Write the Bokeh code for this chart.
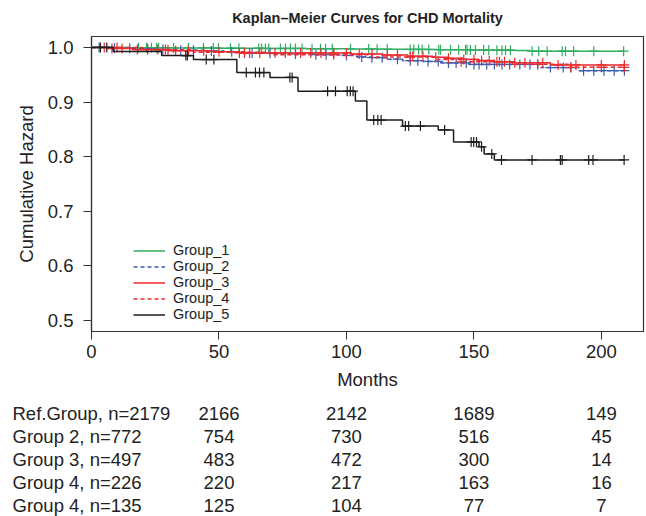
import numpy as np
from bokeh.plotting import figure
from bokeh.models import Range1d, Legend, LegendItem, FixedTicker
from bokeh.embed import file_html
from bokeh.resources import INLINE
from bokeh.core.properties import value

# ---- Kaplan-Meier step curves: event times (months) and survival after each step ----
g1_t = [0, 15, 32, 48, 66, 84, 100, 112, 124, 136, 148, 158, 166, 172, 209]
g1_s = [1.0, 0.9995, 0.9991, 0.9986, 0.9982, 0.9977, 0.9972, 0.9968, 0.9963,
        0.9958, 0.9954, 0.9949, 0.9944, 0.9932, 0.9932]

g2_t = [0, 8, 16, 25, 34, 44, 52, 60, 72, 88, 98, 104, 110, 116, 122, 130, 137,
        148, 176, 191, 209]
g2_s = [1.0, 0.9987, 0.9974, 0.996, 0.9947, 0.9933, 0.992, 0.9894, 0.9881,
        0.9867, 0.9853, 0.9826, 0.9812, 0.9785, 0.9758, 0.9744, 0.9716, 0.9688,
        0.9631, 0.9575, 0.9575]

g3_t = [0, 6, 16, 30, 48, 58, 102, 114, 124, 134, 140, 146, 152, 158, 166, 180, 209]
g3_s = [1.0, 0.998, 0.996, 0.994, 0.992, 0.990, 0.988, 0.986, 0.984, 0.982,
        0.980, 0.978, 0.976, 0.974, 0.972, 0.968, 0.968]

g4_t = [0, 20, 40, 70, 110, 135, 145, 165, 188, 209]
g4_s = [1.0, 0.9956, 0.9912, 0.9868, 0.9824, 0.978, 0.9736, 0.9692, 0.9636, 0.9636]

g5_t = [0, 8.5, 27.5, 40, 57, 70, 81, 103.5, 108, 122, 136, 142, 152, 154, 158, 209]
g5_s = [1.0, 0.9926, 0.9851, 0.9777, 0.954, 0.945, 0.920, 0.902, 0.867, 0.856,
        0.849, 0.827, 0.818, 0.805, 0.794, 0.794]

# ---- censoring times (months) ----
g1_c = [18.4, 21.6, 23.5, 25.5, 26.3, 32.2, 38, 43.9, 47.8, 49.8, 54.5, 57.8,
        65.6, 66.7, 68.2, 69.5, 74.1, 76.1, 78, 80, 82.6, 86.5, 89.8, 91.8, 94.4,
        101.6, 108.7, 112, 116, 125, 126.4, 128.3, 129.7, 132.3, 136.2, 136.9,
        140.8, 144, 146.7, 147.3, 148.6, 150.6, 153.8, 155.8, 159, 161, 162.4,
        164.3, 172.8, 175.4, 178.7, 184.6, 185.9, 189.1, 197, 208.7]
g2_c = [3, 9, 15, 22, 28, 35, 40, 47, 55, 60, 63, 70, 80, 88, 92, 100, 106, 110,
        114, 120, 125, 128, 132, 136, 140, 143, 147, 150, 152, 155, 158, 161, 164,
        168, 172, 175, 180, 185, 188, 193, 197, 201, 205, 209]
g3_c = [5, 8, 12, 18, 22, 26, 29, 33, 38, 44, 50, 58, 62, 66, 72, 76, 82, 86, 90,
        95, 100, 105, 110, 116, 120, 126, 130, 135, 140, 146, 150, 153, 156, 159,
        162, 166, 170, 177, 183, 190, 200, 209]
g4_c = [10, 30, 60, 95, 125, 145, 160, 175, 188, 200, 209]
g5_c = [3.5, 6, 37, 37.6, 45, 48, 60.7, 64.3, 65.9, 67.6, 77.8, 78.7, 92.6, 95.7,
        100.3, 101.5, 102.6, 110.7, 112.3, 113.6, 123.1, 124.4, 129, 138.5, 148.9,
        149.9, 151, 153, 157, 160.8, 172.8, 183.9, 184.6, 195, 196.7, 208.9]

group_names = ["Group_1", "Group_2", "Group_3", "Group_4", "Group_5"]
colors = ["#2fae62", "#3b5bb0", "#ec2a2e", "#ec2a2e", "#1e1e1e"]
dashes = ["solid", "4 3", "solid", "4 3", "solid"]

# ---- numbers at risk ----
risk_months = [50, 100, 150, 200]
risk_labels = ["Ref.Group, n=2179", "Group 2, n=772", "Group 3, n=497",
               "Group 4, n=226", "Group 4, n=135"]
risk_counts = [
    [2166, 2142, 1689, 149],
    [754, 730, 516, 45],
    [483, 472, 300, 14],
    [220, 217, 163, 16],
    [125, 104, 77, 7],
]

x_ticks = [0, 50, 100, 150, 200]
y_ticks = [0.5, 0.6, 0.7, 0.8, 0.9, 1.0]

FONT = "Liberation Sans"
TXT = "#222222"

# layout geometry (pixels)
W = 646
H_PLOT = 400
H_TABLE = 116
LEFT, RIGHT, TOP, BOTTOM = 91, 3, 36, 69
X_END = 216.5
scale = (W - LEFT - RIGHT) / X_END


def surv_at(ts, ss, times):
    idx = np.searchsorted(np.asarray(ts), np.asarray(times), side="right") - 1
    return np.asarray(ss)[idx]


p = figure(width=W, height=H_PLOT, output_backend="svg", toolbar_location=None,
           x_range=Range1d(0, X_END), y_range=Range1d(0.48, 1.02),
           min_border_left=LEFT, min_border_right=RIGHT,
           min_border_top=TOP, min_border_bottom=BOTTOM,
           title="Kaplan\u2013Meier Curves for CHD Mortality")
p.title.align = "center"
p.title.vertical_align = "top"
p.title.text_font = FONT
p.title.text_font_size = "14.5px"
p.title.text_font_style = "bold"
p.title.text_color = TXT
p.title.standoff = 18
p.xgrid.visible = False
p.ygrid.visible = False
p.outline_line_color = "#333333"
p.outline_line_width = 1.2
p.background_fill_color = "white"
p.border_fill_color = "white"

for ax in (p.xaxis, p.yaxis):
    ax.major_label_text_font = FONT
    ax.major_label_text_font_size = "18.5px"
    ax.major_label_text_color = TXT
    ax.axis_label_text_font = FONT
    ax.axis_label_text_font_size = "18.5px"
    ax.axis_label_text_font_style = "normal"
    ax.axis_label_text_color = TXT
    ax.major_tick_out = 8
    ax.major_tick_in = 0
    ax.minor_tick_line_color = None
    ax.axis_line_color = "#333333"
    ax.major_tick_line_color = "#333333"
    ax.axis_line_width = 1.2

p.xaxis.ticker = FixedTicker(ticks=x_ticks)
p.yaxis.ticker = FixedTicker(ticks=y_ticks)
p.yaxis.major_label_overrides = {v: f"{v:.1f}" for v in y_ticks}
p.xaxis.axis_label = "Months"
p.yaxis.axis_label = "Cumulative Hazard"
p.xaxis.major_label_standoff = 5
p.yaxis.major_label_standoff = 10
p.xaxis.axis_label_standoff = 8
p.yaxis.axis_label_standoff = 8

series = [(g1_t, g1_s, g1_c), (g2_t, g2_s, g2_c), (g3_t, g3_s, g3_c),
          (g4_t, g4_s, g4_c), (g5_t, g5_s, g5_c)]

items = []
for (ts, ss, cs), name, col, dash in zip(series, group_names, colors, dashes):
    r = p.step(x=ts, y=ss, mode="after", line_color=col, line_width=1.5,
               line_dash=dash)
    p.scatter(x=cs, y=surv_at(ts, ss, cs), marker="cross", size=10,
              line_color=col, line_width=1.2)
    items.append(LegendItem(label=name, renderers=[r]))

legend = Legend(items=items, location=(42, 9), orientation="vertical",
                border_line_color=None, background_fill_alpha=0,
                label_text_font=FONT, label_text_font_size="14.5px",
                label_text_color=TXT, glyph_width=32, glyph_height=15,
                label_height=15, spacing=0, padding=0, margin=0,
                label_standoff=8)
p.add_layout(legend)

# ---- numbers-at-risk table: its own canvas, same horizontal month scale ----
t = figure(width=W, height=H_TABLE, output_backend="svg", toolbar_location=None,
           x_range=Range1d(-LEFT / scale, (W - LEFT) / scale),
           y_range=Range1d(4.48, -0.565),
           x_axis_location=None, y_axis_location=None,
           min_border=0, min_border_left=0, min_border_right=0,
           min_border_top=0, min_border_bottom=0)
t.xgrid.visible = False
t.ygrid.visible = False
t.outline_line_color = None
t.background_fill_color = "white"
t.border_fill_color = "white"

rows = list(range(len(risk_labels)))
t.text(x=[(12 - LEFT) / scale] * len(rows), y=rows, text=risk_labels,
       text_font=value(FONT), text_font_size="18.5px", text_color=TXT,
       text_align="left", text_baseline="middle")
xs, ys, txt = [], [], []
for i, counts in enumerate(risk_counts):
    for m, c in zip(risk_months, counts):
        xs.append(m)
        ys.append(i)
        txt.append(str(c))
t.text(x=xs, y=ys, text=txt, text_font=value(FONT), text_font_size="18.5px",
       text_color=TXT, text_align="center", text_baseline="middle")

# two independent roots, stacked on the page
open("out.html", "w").write(file_html([p, t], INLINE))
